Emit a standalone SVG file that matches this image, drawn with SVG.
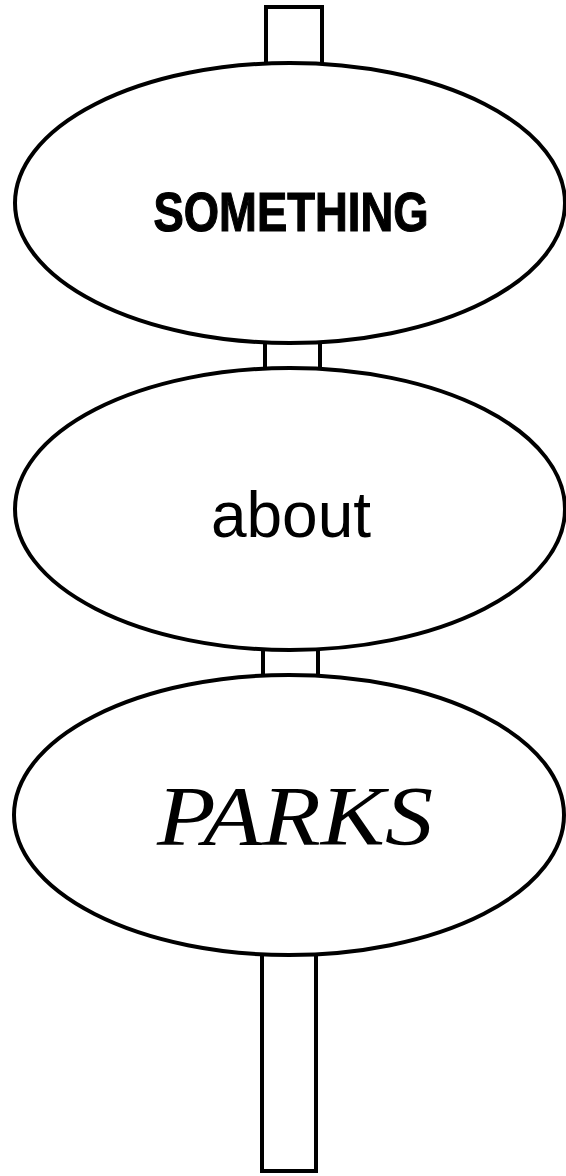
<svg xmlns="http://www.w3.org/2000/svg" width="566" height="1176" viewBox="0 0 566 1176">
<style>
.s{fill:#fff;stroke:#000;stroke-width:4}
.t{fill:#000;text-anchor:middle}
</style>
<rect width="566" height="1176" fill="#fff"/>
<g id="connectors">
<rect class="s" x="266" y="7" width="56" height="60"/>
<rect class="s" x="265" y="330" width="55" height="45"/>
<rect class="s" x="263" y="640" width="55" height="40"/>
<rect class="s" x="262" y="945" width="54" height="226"/>
</g>
<g id="node-something">
<ellipse class="s" cx="290" cy="203" rx="275" ry="140"/>
<text class="t" x="291" y="231" font-family="Liberation Sans, Arial, sans-serif" font-weight="bold" font-size="56" stroke="#000" stroke-width="1.2" textLength="275" lengthAdjust="spacingAndGlyphs">SOMETHING</text>
</g>
<g id="node-about">
<ellipse class="s" cx="290" cy="509" rx="275" ry="141"/>
<text class="t" x="291" y="537" font-family="Liberation Sans, Arial, sans-serif" font-size="64">about</text>
</g>
<g id="node-parks">
<ellipse class="s" cx="289" cy="815" rx="275" ry="140"/>
<text class="t" x="295" y="845" font-family="Liberation Serif, Times New Roman, serif" font-style="italic" font-size="84" textLength="276" lengthAdjust="spacingAndGlyphs">PARKS</text>
</g>
</svg>
